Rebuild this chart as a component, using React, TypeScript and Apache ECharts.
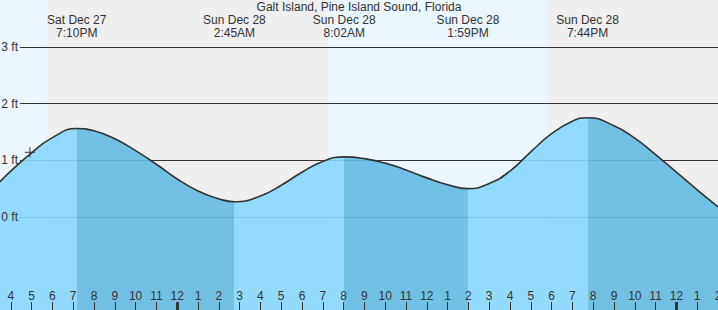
import React, { useEffect, useRef } from "react";
import * as echarts from "echarts";

// Hours since Sat Dec 27 00:00
const times = [15.47, 16, 17, 18, 19.17, 20, 21, 22, 23, 24, 25, 26, 26.75, 28, 29, 30, 31, 32.03, 33, 34, 35, 36, 37, 37.98, 39, 40, 41, 42, 43, 43.73, 45, 46, 47, 48, 49, 50];
const heights = [0.62, 0.81, 1.13, 1.4, 1.56, 1.52, 1.38, 1.17, 0.93, 0.67, 0.46, 0.32, 0.27, 0.37, 0.56, 0.79, 0.98, 1.06, 1.03, 0.95, 0.83, 0.69, 0.57, 0.5, 0.59, 0.81, 1.15, 1.47, 1.69, 1.75, 1.61, 1.39, 1.1, 0.79, 0.48, 0.18];

const extremeTimes = [19.17, 26.75, 32.03, 37.98, 43.73];
const extremeDays = ["Sat Dec 27", "Sun Dec 28", "Sun Dec 28", "Sun Dec 28", "Sun Dec 28"];
const extremeClock = ["7:10PM", "2:45AM", "8:02AM", "1:59PM", "7:44PM"];

const bandStarts = [15, 17.73, 31.25, 41.78];
const bandEnds = [17.73, 31.25, 41.78, 50];
const bandKinds = [0, 1, 0, 1]; // 0 = day, 1 = night

const nowTime = [16.92];
const nowHeight = [1.14];

const midnightTicks = [24, 48];
const ftTicks = [0, 1, 2, 3];

const TITLE = "Galt Island, Pine Island Sound, Florida";

const X_MIN = 15;
const X_MAX = 50;
const PX_PER_FT = 56.7;
const ZERO_Y = 217;
const H = 310;

const FONT = "Liberation Sans, Arial, sans-serif";
const TXT = "#333";
const DAY = "#ebf6ff";
const NIGHT = "#efefef";
const RISE = "#88d8fe";
const FALL = "#64bbe3";

export default function App() {
  const ref = useRef<HTMLDivElement>(null);
  useEffect(() => {
    if (!ref.current) return;
    const chart = echarts.init(ref.current, undefined, { renderer: "svg" });

    const tFirst = times[0];
    const tLast = times[times.length - 1];
    const span = tLast - tFirst;
    const bounds = [tFirst, ...extremeTimes, tLast];
    const hAt = (t: number) => {
      let best = 0;
      for (let i = 0; i < times.length; i++) if (Math.abs(times[i] - t) < Math.abs(times[best] - t)) best = i;
      return heights[best];
    };
    const stops: { offset: number; color: string }[] = [];
    for (let i = 0; i < bounds.length - 1; i++) {
      const rising = hAt(bounds[i + 1]) > hAt(bounds[i]);
      const c = rising ? RISE : FALL;
      stops.push({ offset: (bounds[i] - tFirst) / span, color: c });
      stops.push({ offset: (bounds[i + 1] - tFirst) / span, color: c });
    }
    const grad = new echarts.graphic.LinearGradient(0, 0, 1, 0, stops);

    const yMax = ZERO_Y / PX_PER_FT;
    const yMin = -(H - ZERO_Y) / PX_PER_FT;
    const topY = ZERO_Y - ftTicks[ftTicks.length - 1] * PX_PER_FT;
    const ftMin = ftTicks[0];
    const ftMax = ftTicks[ftTicks.length - 1];

    const option: any = {
      animation: false,
      title: {
        text: TITLE,
        left: "center",
        top: 1,
        padding: 0,
        textStyle: { fontSize: 12, fontWeight: "normal", color: TXT, fontFamily: FONT },
      },
      grid: [
        { left: -10, right: 0, top: 0, bottom: 0, outerBoundsMode: "none", containLabel: false },
        { left: 20, right: 0, top: topY, bottom: H - ZERO_Y, outerBoundsMode: "none", containLabel: false },
      ],
      xAxis: [
        {
          type: "value", gridIndex: 0, min: X_MIN, max: X_MAX, interval: 1, position: "bottom", z: 10,
          axisLine: { show: false, onZero: false },
          axisTick: { show: true, inside: true, length: 8, lineStyle: { color: TXT, width: 1 } },
          axisLabel: {
            inside: true, margin: 8, fontSize: 12, color: TXT, fontFamily: FONT,
            showMinLabel: false, showMaxLabel: true, hideOverlap: false,
            formatter: (v: number) => String(((Math.round(v) % 12) + 12) % 12 || 12),
          },
          splitLine: { show: false },
        },
        {
          type: "value", gridIndex: 0, min: X_MIN, max: X_MAX, position: "top", z: 10,
          axisLine: { show: false, onZero: false }, axisTick: { show: false }, splitLine: { show: false },
          axisLabel: {
            inside: true, margin: 13, fontSize: 12, color: TXT, fontFamily: FONT, lineHeight: 13,
            customValues: extremeTimes, hideOverlap: false,
            formatter: (v: number) => {
              let b = 0;
              for (let i = 0; i < extremeTimes.length; i++) if (Math.abs(extremeTimes[i] - v) < Math.abs(extremeTimes[b] - v)) b = i;
              return extremeDays[b] + "\n" + extremeClock[b];
            },
          },
        },
        {
          type: "value", gridIndex: 0, min: X_MIN, max: X_MAX, position: "bottom", z: 10,
          axisLine: { show: false, onZero: false }, axisLabel: { show: false }, splitLine: { show: false },
          axisTick: { show: true, inside: true, length: 8, customValues: midnightTicks, lineStyle: { color: TXT, width: 3 } },
        },
        { type: "value", gridIndex: 1, min: X_MIN, max: X_MAX, show: false, axisLine: { onZero: false } },
      ],
      yAxis: [
        { type: "value", gridIndex: 0, min: yMin, max: yMax, show: false, splitLine: { show: false } },
        {
          type: "value", gridIndex: 1, min: ftMin, max: ftMax, interval: 1, z: 0, position: "left",
          axisLine: { show: false, onZero: false }, axisTick: { show: false }, axisLabel: { show: false },
          splitLine: { show: true, lineStyle: { color: TXT, width: 1 } },
        },
        {
          type: "value", gridIndex: 1, min: ftMin, max: ftMax, interval: 1, z: 10, position: "left", offset: 0,
          axisLine: { show: false, onZero: false }, axisTick: { show: false }, splitLine: { show: false },
          axisLabel: { margin: 2, fontSize: 12, color: TXT, fontFamily: FONT, formatter: "{value} ft" },
        },
      ],
      series: [
        {
          type: "custom", xAxisIndex: 0, yAxisIndex: 0, z: -1, silent: true,
          data: bandStarts.map((s, i) => [s, bandEnds[i], bandKinds[i]]),
          encode: { x: [0, 1] },
          renderItem: (params: any, api: any) => {
            const a = api.coord([api.value(0), 0]);
            const b = api.coord([api.value(1), 0]);
            const cs = params.coordSys;
            return {
              type: "rect",
              shape: { x: a[0], y: cs.y, width: b[0] - a[0], height: cs.height },
              style: { fill: api.value(2) === 0 ? DAY : NIGHT },
            };
          },
        },
        {
          type: "line", xAxisIndex: 0, yAxisIndex: 0, z: 2,
          data: times.map((t, i) => [t, heights[i]]),
          smooth: 0.5, showSymbol: false, symbol: "none",
          lineStyle: { color: "#333", width: 1.6 },
          areaStyle: { color: grad, opacity: 0.9, origin: "start" },
        },
        {
          type: "scatter", xAxisIndex: 0, yAxisIndex: 0, z: 5,
          data: nowTime.map((t, i) => [t, nowHeight[i]]),
          symbol: "path://M0,4.4H10V5.6H0Z M4.4,0H5.6V10H4.4Z",
          symbolSize: 10,
          itemStyle: { color: "#333" },
        },
      ],
    };
    chart.setOption(option);
    return () => chart.dispose();
  }, []);
  return <div ref={ref} style={{ position: "absolute", left: 0, top: 0, width: 718, height: 310 }} />;
}
